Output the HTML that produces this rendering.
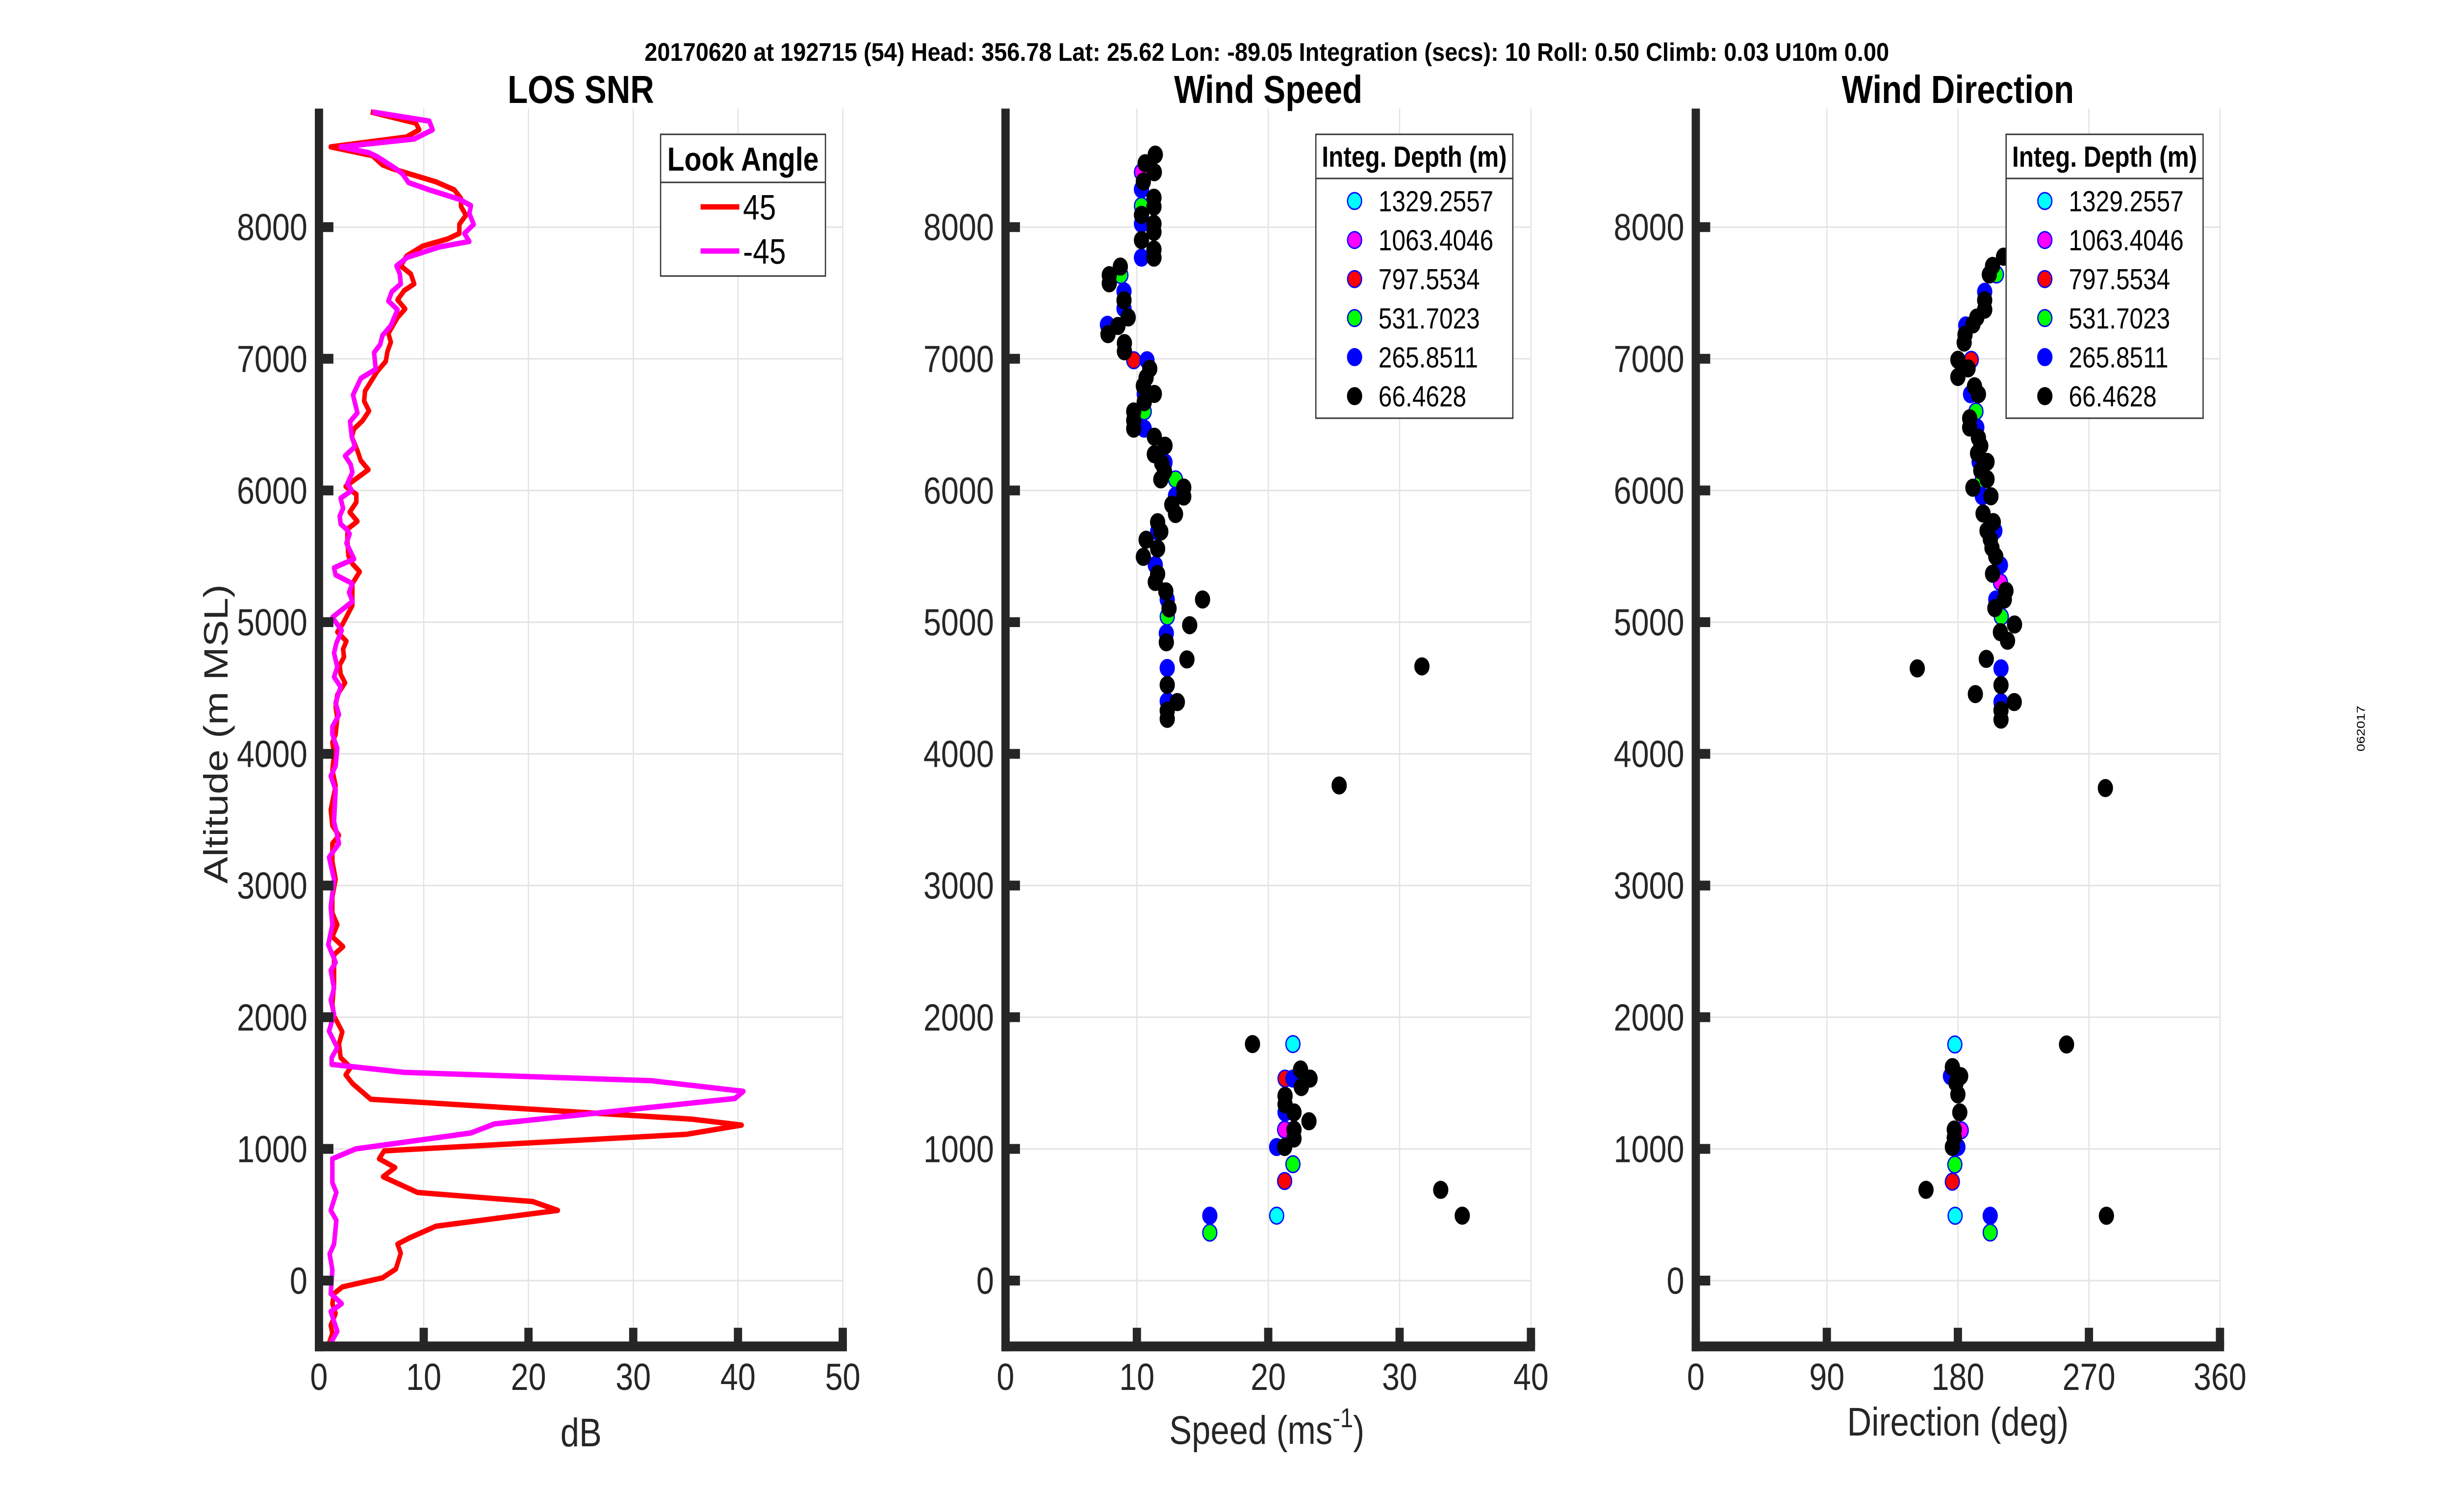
<!DOCTYPE html>
<html><head><meta charset="utf-8"><style>
html,body{margin:0;padding:0;background:#fff;width:100%;height:100%;overflow:hidden;}
svg{display:block;width:100vw;height:100vh;font-family:"Liberation Sans",Arial,sans-serif;}
</style></head><body>
<svg id="fig" viewBox="0 0 5950 3084" preserveAspectRatio="none" xmlns="http://www.w3.org/2000/svg">
<rect width="5950" height="3084" fill="#fff"/>
<text x="3074" y="124" text-anchor="middle" font-weight="bold" font-size="52" textLength="3020" lengthAdjust="spacingAndGlyphs">20170620 at 192715 (54)  Head: 356.78  Lat: 25.62  Lon: -89.05  Integration (secs): 10  Roll: 0.50  Climb: 0.03  U10m 0.00</text>
<text transform="translate(5738,1486) rotate(-90)" text-anchor="middle" font-size="28">062017</text>
<g id="p1"></g>
<g id="p2"></g>
<g id="p3"></g>
</svg>
<script>
// ---- LOS SNR data ----
const alt45=[8874,8790,8739,8684,8609,8543,8473,8443,8344,8283,8217,8157,8090,8021,7952,7910,7855,7780,7705,7644,7569,7518,7448,7379,7313,7192,7126,7056,6981,6906,6755,6679,6604,6529,6468,6408,6303,6227,6158,6031,6001,5971,5911,5835,5766,5706,5624,5504,5443,5383,5293,5127,4991,4925,4855,4795,4735,4674,4605,4539,4448,4358,4268,4148,4087,3997,3877,3756,3575,3455,3380,3319,3184,3048,2913,2792,2702,2611,2536,2476,2250,2099,2009,1889,1798,1693,1618,1563,1497,1377,1226,1181,1111,985,925,858,789,669,600,533,413,323,277,208,88,21,-48,-99,-175,-250,-340,-400,-476];
const snr45=[4.94,9.25,9.57,8.36,1.12,5.1,6.06,7.02,11.16,12.92,13.56,13.56,14.03,13.4,13.4,12.28,9.89,8.36,7.81,8.77,9.09,8.13,7.5,8.23,7.5,6.63,6.86,6.54,6.38,5.58,4.4,4.31,4.78,4.15,3.35,3.13,3.67,3.99,4.72,2.55,3.03,3.57,3.57,2.93,3.67,2.71,2.71,2.81,3.19,3.89,3.19,3.19,2.3,1.75,2.62,2.3,2.39,1.98,2.07,2.49,1.75,1.59,1.75,1.59,1.28,1.44,1.28,1.59,1.12,1.28,1.91,1.28,1.28,1.59,1.28,1.28,1.75,1.28,2.3,1.44,1.44,1.28,1.44,2.23,1.91,2.07,3.03,2.55,3.19,4.94,35.57,40.35,35.09,6.22,5.74,7.27,6.12,9.41,20.41,22.8,11.16,8.61,7.5,7.81,7.34,6.06,2.23,1.44,1.28,1.59,1.12,1.28,0.96];
const altM45=[8874,8805,8739,8669,8609,8564,8534,8443,8404,8338,8283,8211,8163,8103,8021,7952,7891,7849,7771,7705,7644,7569,7509,7439,7373,7252,7177,7108,7047,6921,6851,6725,6589,6523,6408,6333,6263,6197,6137,6052,6001,5941,5865,5805,5745,5706,5670,5600,5480,5413,5359,5293,5226,5157,5036,4937,4840,4765,4659,4584,4509,4388,4297,4207,4148,4042,3907,3831,3726,3485,3319,3214,3048,2837,2702,2551,2416,2356,2220,2130,2024,1895,1768,1693,1642,1581,1518,1437,1383,1190,1121,1000,925,744,669,533,458,277,202,81,-99,-175,-235,-385,-476];
const snrM45=[5.1,10.53,10.85,9.09,2.07,4.78,5.58,7.34,7.97,8.55,10.53,13.4,14.51,14.35,14.77,13.88,14.35,11.48,8.45,7.4,7.72,7.81,6.95,6.63,7.5,6.86,6.06,5.84,5.26,5.42,3.99,3.25,3.67,2.97,3.13,3.44,2.49,3.03,3.19,2.71,3.13,2.07,2.3,1.98,2.07,2.62,2.93,2.62,3.35,1.44,1.59,3.19,2.87,3.19,1.28,2.17,1.66,1.44,1.75,1.44,2.07,1.59,1.91,1.28,1.28,1.75,1.59,1.12,1.59,1.44,1.91,0.96,1.44,1.12,1.28,0.89,1.59,1.12,1.44,1.12,1.44,0.96,1.75,1.21,1.21,8.13,31.74,40.51,39.71,16.75,14.51,3.51,1.28,1.28,1.66,1.12,1.66,1.44,1.02,1.28,1.12,2.17,1.12,1.75,1.12];

// ---- Wind speed data (per integration depth) ----
const spdCyanX=[21.88,20.64];
const spdCyanAlt=[1796,493];
const spdMagX=[10.35,21.25];
const spdMagAlt=[8417,1146];
const spdRedX=[9.76,21.28,21.25];
const spdRedAlt=[6989,1534,756];
const spdGreenX=[10.35,8.78,10.56,12.94,12.31,21.88,15.55];
const spdGreenAlt=[8161,7635,6600,6084,5042,884,364];
const spdBlueX=[11.4,10.35,10.35,10.35,9.02,9.02,7.76,10.77,10.56,10.56,12.14,12.94,11.58,11.4,12.31,12.24,12.31,12.31,21.88,21.28,21.28,20.64,15.55];
const spdBlueAlt=[8550,8287,8025,7768,7512,7382,7258,6989,6733,6470,6213,5960,5688,5434,5172,4915,4652,4399,1534,1403,1277,1014,493];
const spdBlackX=[11.4,10.63,11.33,10.49,11.3,11.3,10.35,11.3,11.3,10.35,11.3,11.3,8.74,7.9,7.9,9.02,9.34,8.56,7.8,9.05,9.05,10.98,10.7,10.49,11.33,10.56,9.76,9.76,9.76,11.33,12.14,11.33,11.89,12.1,11.82,13.57,13.57,12.66,12.94,11.58,11.82,10.7,11.58,10.49,11.58,11.4,12.2,12.45,15.0,14.02,12.24,13.81,12.31,13.08,12.31,12.31,31.7,25.4,18.8,22.46,23.18,22.52,21.28,21.28,21.96,23.1,21.96,21.96,21.25,33.13,34.77];
const spdBlackAlt=[8550,8485,8417,8346,8223,8155,8093,8025,7963,7901,7830,7768,7700,7635,7573,7444,7314,7249,7187,7119,7057,6924,6856,6794,6733,6671,6600,6532,6470,6408,6340,6275,6207,6145,6084,6022,5954,5892,5821,5759,5688,5626,5558,5496,5366,5305,5234,5104,5172,4977,4847,4717,4523,4393,4328,4266,4664,3760,1796,1603,1534,1470,1403,1339,1277,1210,1146,1079,1014,689,493];

// ---- Wind direction data ----
const dirCyanX=[177.9,178.1];
const dirCyanAlt=[1793,492];
const dirMagX=[198.4,209.2,182.3];
const dirMagAlt=[7373,5303,1141];
const dirRedX=[189.2,176.2];
const dirRedAlt=[6992,751];
const dirGreenX=[206.5,192.4,196.8,209.8,177.9,202.2];
const dirGreenAlt=[7640,6600,6086,5042,881,365];
const dirBlueX=[211.4,198.4,185.4,188.7,193,194.6,196.8,205.4,209.2,206,209.6,209.6,174.9,180,202.2];
const dirBlueAlt=[7775,7509,7253,6731,6478,6217,5956,5694,5433,5172,4649,4393,1553,1014,492];
const dirBlackX=[211.4,203.8,201.6,198.4,198.4,193,190.3,184.9,184.3,180,187,180,191.4,194.1,188.1,188.1,194.1,195.7,193.5,200,195.7,200,190.3,202.7,197.3,204.3,200,202.3,203.4,206,203.8,213,211.9,205.4,218.9,209.2,214.1,199.5,152.1,209.6,192,218.7,209.6,209.6,281.3,254.6,176.2,181.9,178.7,180,181.3,177.5,177.5,176.2,158.1,282];
const dirBlackAlt=[7775,7705,7640,7444,7373,7313,7261,7183,7123,6992,6927,6862,6791,6731,6548,6478,6400,6339,6282,6217,6151,6086,6021,5956,5825,5760,5694,5629,5564,5499,5368,5238,5172,5107,4982,4924,4859,4721,4649,4522,4454,4393,4331,4260,3740,1793,1621,1553,1500,1414,1277,1147,1085,1014,689,492];

const yTicks=[0,1000,2000,3000,4000,5000,6000,7000,8000];
const snrTicks=[0,10,20,30,40,50];
const spdTicks=[0,10,20,30,40];
const dirTicks=[0,90,180,270,360];
const depthLabels=['1329.2557','1063.4046','797.5534','531.7023','265.8511','66.4628'];
const depthColors=['#00ffff','#ff00ff','#ff0000','#00ff00','#0000ff','#000000'];

const NS='http://www.w3.org/2000/svg';
function mk(parent,tag,attrs){const e=document.createElementNS(NS,tag);for(const k in attrs)e.setAttribute(k,attrs[k]);parent.appendChild(e);return e;}
const Y0=2612, PER=268.6, YMIN=-500, YMAX=8900;
function yS(a){return Y0-a*PER/1000;}
const AX='#262626';

function panel(g,x0,x1,xmax,xt,title){
  const xS=v=>x0+(x1-x0)*v/xmax;
  const top=yS(YMAX), bot=yS(YMIN);
  xt.forEach(t=>{const l=mk(g,'line',{x1:xS(t),x2:xS(t),y1:top,y2:bot,stroke:'#e3e3e3','stroke-width':3});
    
    });
  yTicks.forEach(t=>{const l=mk(g,'line',{x1:x0,x2:x1,y1:yS(t),y2:yS(t),stroke:'#e3e3e3','stroke-width':3});
    
    });
  const tt=mk(g,'text',{x:(x0+x1)/2,y:210,'text-anchor':'middle','font-weight':'bold','font-size':80,fill:'#000'});
  tt.textContent=title;
  
  
  return {xS,top,bot,x0,x1};
}
function axes(g,P,xt){
  const {xS,top,bot,x0,x1}=P;
  const ya=mk(g,'line',{x1:x0,x2:x0,y1:top,y2:bot+10,stroke:AX,'stroke-width':20});
  
  
  const xa=mk(g,'line',{x1:x0-10,x2:x1+10,y1:bot,y2:bot,stroke:AX,'stroke-width':20});
  
  
  yTicks.forEach(t=>{
    const tk=mk(g,'line',{x1:x0,x2:x0+35,y1:yS(t),y2:yS(t),stroke:AX,'stroke-width':20});
    
    
    const lb=mk(g,'text',{x:x0-28,y:yS(t)+27,'text-anchor':'end','font-size':77,fill:AX});
    lb.textContent=t;
    
    
  });
  xt.forEach(t=>{
    const tk=mk(g,'line',{x1:xS(t),x2:xS(t),y1:bot,y2:bot-38,stroke:AX,'stroke-width':20});
    
    
    const lb=mk(g,'text',{x:xS(t),y:2835,'text-anchor':'middle','font-size':77,fill:AX});
    lb.textContent=t;
    
    
  });
}

const g1=document.getElementById('p1');
const P1=panel(g1,774,2045,50,snrTicks,'LOS SNR');
function poly(g,xs,ys,col,name){
  const pts=xs.map((v,i)=>P1.xS(v).toFixed(1)+','+yS(ys[i]).toFixed(1)).join(' ');
  const p=mk(g,'polyline',{points:pts,fill:'none',stroke:col,'stroke-width':11,'stroke-linejoin':'round'});
  
  
}
poly(g1,snr45,alt45,'#ff0000','snr-line-45');
poly(g1,snrM45,altM45,'#ff00ff','snr-line-minus45');
axes(g1,P1,snrTicks);
{
  const xl=mk(g1,'text',{x:1410,y:2950,'text-anchor':'middle','font-size':82,fill:AX});xl.textContent='dB';
  
  
  const yl=mk(g1,'text',{transform:'translate(552,1497) rotate(-90)','text-anchor':'middle','font-size':82,fill:AX});yl.textContent='Altitude (m MSL)';
  
  
  const lg=mk(g1,'g',{});
  
  
  mk(lg,'rect',{x:1603,y:274,width:400,height:289,fill:'#fff',stroke:'#333','stroke-width':3});
  mk(lg,'line',{x1:1603,x2:2003,y1:372,y2:372,stroke:'#333','stroke-width':3});
  const h=mk(lg,'text',{x:1803,y:348,'text-anchor':'middle','font-weight':'bold','font-size':68});h.textContent='Look Angle';
  [['45','#ff0000',422],['-45','#ff00ff',512]].forEach(([t,c,y])=>{
    mk(lg,'line',{x1:1700,x2:1794,y1:y,y2:y,stroke:c,'stroke-width':11});
    const tx=mk(lg,'text',{x:1803,y:y+26,'font-size':72});tx.textContent=t;
    
    
  });
}

function scatterPanel(g,x0,x1,xmax,xt,title,sets,legendX){
  const P=panel(g,x0,x1,xmax,xt,title);
  sets.forEach(([xs,ys,col,name])=>{
    xs.forEach((v,i)=>{
      const c=mk(g,'circle',{cx:P.xS(v).toFixed(1),cy:yS(ys[i]).toFixed(1),r:17,fill:col,stroke:col==='#000000'?'#000':'#0000ff','stroke-width':3});
      
      
    });
  });
  axes(g,P,xt);
  const lg=mk(g,'g',{});
  
  
  mk(lg,'rect',{x:legendX,y:274,width:478,height:579,fill:'#fff',stroke:'#333','stroke-width':3});
  mk(lg,'line',{x1:legendX,x2:legendX+478,y1:364,y2:364,stroke:'#333','stroke-width':3});
  const h=mk(lg,'text',{x:legendX+239,y:340,'text-anchor':'middle','font-weight':'bold','font-size':59});h.textContent='Integ. Depth (m)';
  depthLabels.forEach((t,i)=>{
    const y=410+i*79.6;
    mk(lg,'circle',{cx:legendX+94,cy:y,r:17,fill:depthColors[i],stroke:i===5?'#000':'#0000ff','stroke-width':3});
    const tx=mk(lg,'text',{x:legendX+152,y:y+21,'font-size':59});tx.textContent=t;
    
    
  });
  return P;
}
const g2=document.getElementById('p2');
scatterPanel(g2,2440,3715,40,spdTicks,'Wind Speed',[
  [spdCyanX,spdCyanAlt,'#00ffff','speed-point-1329m'],
  [spdMagX,spdMagAlt,'#ff00ff','speed-point-1063m'],
  [spdRedX,spdRedAlt,'#ff0000','speed-point-798m'],
  [spdGreenX,spdGreenAlt,'#00ff00','speed-point-532m'],
  [spdBlueX,spdBlueAlt,'#0000ff','speed-point-266m'],
  [spdBlackX,spdBlackAlt,'#000000','speed-point-66m']],3193);
{
  const xl=mk(g2,'text',{x:3074,y:2945,'text-anchor':'middle','font-size':82,fill:AX});
  xl.innerHTML='Speed (ms<tspan dy="-34" font-size="56">-1</tspan><tspan dy="34">)</tspan>';
  
  
}
const g3=document.getElementById('p3');
scatterPanel(g3,4115,5387,360,dirTicks,'Wind Direction',[
  [dirCyanX,dirCyanAlt,'#00ffff','direction-point-1329m'],
  [dirMagX,dirMagAlt,'#ff00ff','direction-point-1063m'],
  [dirRedX,dirRedAlt,'#ff0000','direction-point-798m'],
  [dirGreenX,dirGreenAlt,'#00ff00','direction-point-532m'],
  [dirBlueX,dirBlueAlt,'#0000ff','direction-point-266m'],
  [dirBlackX,dirBlackAlt,'#000000','direction-point-66m']],4868);
{
  const xl=mk(g3,'text',{x:4751,y:2928,'text-anchor':'middle','font-size':82,fill:AX});xl.textContent='Direction (deg)';
  
  
}
</script>
</body></html>
